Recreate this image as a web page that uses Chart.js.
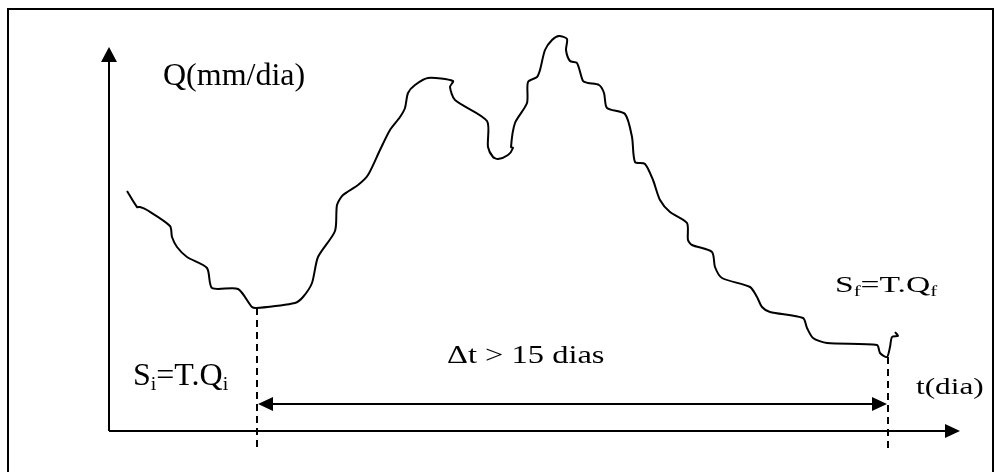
<!DOCTYPE html>
<html>
<head>
<meta charset="utf-8">
<script src="https://cdn.jsdelivr.net/npm/chart.js@4/dist/chart.umd.min.js"></script>
<style>
    body { margin: 0; background: #fff; }
    #wrap { position: relative; width: 995px; height: 472px; overflow: hidden; }
    #frame { position: absolute; left: 7px; top: 8px; right: 1px; bottom: -5px; border: 2px solid #000; border-bottom: none; pointer-events: none; }
</style>
</head>
<body>
<div id="wrap">
    <canvas id="myChart" width="995" height="472"></canvas>
    <div id="frame"></div>
</div>
<script>
// hidrograma: t em dias, Q em mm/dia
const tDias = [0.45, 0.70, 0.775, 0.95, 1.525, 1.575, 1.70, 1.95, 2.45, 2.575,
    3.225, 3.575, 3.70, 4.65, 4.85, 5.075, 5.225, 5.65, 5.70, 5.85,
    6.225, 6.475, 6.775, 7.025, 7.275, 7.40, 7.475, 7.65, 7.975, 8.60,
    8.525, 8.65, 9.45, 9.475, 9.60, 9.725, 9.975, 10.10, 10.05, 10.15,
    10.45, 10.475, 10.70, 10.775, 10.90, 11.075, 11.25, 11.45, 11.425, 11.525,
    11.70, 11.85, 11.975, 12.25, 12.375, 12.45, 12.90, 13.075, 13.15, 13.40,
    13.60, 13.775, 14.025, 14.45, 14.475, 14.575, 15.075, 15.15, 15.325, 16.025,
    16.20, 16.325, 16.525, 17.35, 17.45, 17.60, 17.95, 19.20, 19.275, 19.45,
    19.525, 19.575, 19.725, 19.65];
const qVazao = [12.0, 11.2, 11.2, 11.05, 10.25, 9.7, 9.2, 8.7, 8.15, 7.15,
    7.1, 6.2, 6.15, 6.4, 6.7, 7.4, 8.7, 10.0, 11.3, 11.8,
    12.3, 12.8, 14.05, 15.05, 15.7, 16.15, 16.9, 17.3, 17.65, 17.5,
    17.2, 16.55, 15.5, 14.2, 13.7, 13.6, 13.8, 14.15, 14.2, 15.4,
    16.4, 17.45, 17.7, 18.05, 19.05, 19.55, 19.75, 19.6, 19.05, 18.5,
    18.4, 17.5, 17.4, 17.3, 16.9, 16.15, 15.85, 14.7, 13.45, 13.35,
    12.55, 11.55, 10.95, 10.4, 9.55, 9.3, 8.95, 8.2, 7.65, 7.2,
    6.7, 6.2, 5.95, 5.65, 5.15, 4.65, 4.4, 4.3, 3.9, 3.7,
    4.2, 4.7, 4.75, 4.95];

// inicio e fim do periodo de recessao
const tInicio = 3.7, qInicio = 6.15;
const tFim = 19.475, qFim = 3.7;

// eixos
const tMax = 21.275, qMax = 19.2;

const serif = '"Liberation Serif", "Times New Roman", serif';

function seta(ctx, x, y, dx, dy, comp, meia) {
    // ponta em (x,y), apontando na direcao (dx,dy)
    ctx.beginPath();
    ctx.moveTo(x, y);
    ctx.lineTo(x - dx * comp - dy * meia, y - dy * comp + dx * meia);
    ctx.lineTo(x - dx * comp + dy * meia, y - dy * comp - dx * meia);
    ctx.closePath();
    ctx.fill();
}

function texto(ctx, partes, x, y, size, sx) {
    ctx.save();
    ctx.translate(x, y);
    ctx.scale(sx, 1);
    let cx = 0;
    partes.forEach(([s, sub]) => {
        const fs = sub ? size * 0.62 : size;
        ctx.font = fs + 'px ' + serif;
        ctx.fillText(s, cx, sub ? size * 0.16 : 0);
        cx += ctx.measureText(s).width;
    });
    ctx.restore();
}

const desenho = {
    id: 'desenho',
    afterDraw(chart) {
        const ctx = chart.ctx;
        const x = chart.scales.x, y = chart.scales.y;
        const px = v => x.getPixelForValue(v);
        const py = v => y.getPixelForValue(v);
        ctx.save();
        ctx.strokeStyle = '#000';
        ctx.fillStyle = '#000';
        ctx.lineWidth = 2;

        // eixo Q
        ctx.beginPath();
        ctx.moveTo(px(0), py(0));
        ctx.lineTo(px(0), py(qMax) + 12);
        ctx.stroke();
        seta(ctx, px(0), py(qMax), 0, -1, 15, 8);

        // eixo t
        ctx.beginPath();
        ctx.moveTo(px(0), py(0));
        ctx.lineTo(px(tMax) - 12, py(0));
        ctx.stroke();
        seta(ctx, px(tMax), py(0), 1, 0, 15, 7);

        // linhas tracejadas
        ctx.setLineDash([7, 5]);
        ctx.beginPath();
        ctx.moveTo(px(tInicio), py(qInicio));
        ctx.lineTo(px(tInicio), py(-1.05));
        ctx.moveTo(px(tFim), py(qFim));
        ctx.lineTo(px(tFim), py(-1.05));
        ctx.stroke();
        ctx.setLineDash([]);

        // seta dupla do intervalo
        const qs = 1.35;
        ctx.beginPath();
        ctx.moveTo(px(tInicio) + 10, py(qs));
        ctx.lineTo(px(tFim) - 10, py(qs));
        ctx.stroke();
        seta(ctx, px(tInicio) + 1, py(qs), -1, 0, 15, 7);
        seta(ctx, px(tFim) - 1, py(qs), 1, 0, 15, 7);

        // rotulos
        ctx.textBaseline = 'alphabetic';
        texto(ctx, [['Q(mm/dia)', 0]], px(1.35), py(17.3), 32, 1);
        texto(ctx, [['S', 0], ['i', 1], ['=T.Q', 0], ['i', 1]], px(0.6), py(2.3), 32, 1);
        texto(ctx, [['\u0394t > 15 dias', 0]], px(8.45), py(3.4), 25, 1.3);
        texto(ctx, [['S', 0], ['f', 1], ['=T.Q', 0], ['f', 1]], px(18.15), py(6.95), 24, 1.4);
        texto(ctx, [['t(dia)', 0]], px(20.175), py(1.85), 23, 1.36);
        ctx.restore();
    }
};

const ctx = document.getElementById('myChart').getContext('2d');
new Chart(ctx, {
    type: 'scatter',
    data: {
        datasets: [{
            label: 'Q',
            data: tDias.map((t, i) => ({ x: t, y: qVazao[i] })),
            showLine: true,
            borderColor: '#000',
            borderWidth: 2,
            pointRadius: 0,
            tension: 0.25,
            clip: false
        }]
    },
    options: {
        responsive: false,
        animation: false,
        layout: { padding: { left: 109, right: 6, top: 31, bottom: 41 } },
        scales: {
            x: { type: 'linear', min: 0, max: 22, display: false },
            y: { type: 'linear', min: 0, max: 20, display: false }
        },
        plugins: {
            legend: { display: false },
            tooltip: { enabled: false }
        }
    },
    plugins: [desenho]
});
</script>
</body>
</html>
